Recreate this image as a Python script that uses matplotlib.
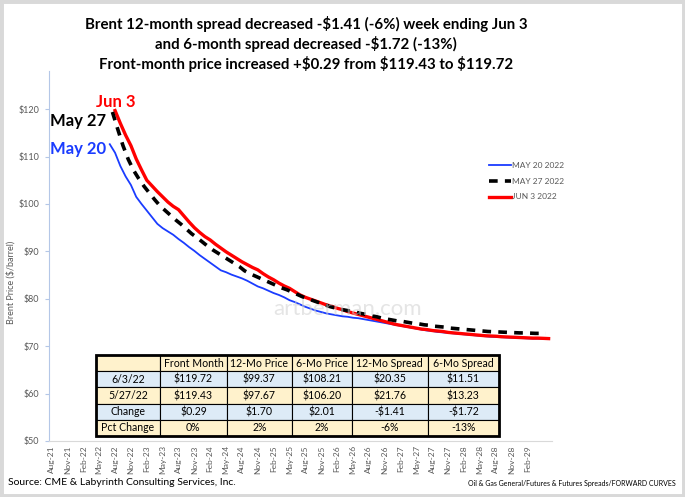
import numpy as np
import matplotlib
matplotlib.use('Agg')
import matplotlib.pyplot as plt
from matplotlib.patches import Rectangle

plt.rcParams['font.family'] = ['Lato', 'DejaVu Sans']

#Forward curves, one value per contract month (month 0 = Aug-21)
start_may20 = 11
start_may27 = 11.5
start_jun3 = 12
may20 = [112.6,110.8,108.0,105.8,104.0,101.5,100.0,98.6,97.2,95.8,94.9,94.2,93.5,92.6,91.8,90.9,
 90.1,89.2,88.4,87.6,86.8,86.0,85.6,85.1,84.7,84.3,83.8,83.2,82.6,82.2,81.7,81.2,80.8,80.3,79.7,
 79.3,78.8,78.3,77.9,77.5,77.2,76.9,76.7,76.5,76.3,76.2,76.0,75.9,75.7,75.5,75.3,75.1,74.9,74.7,
 74.5,74.3,74.1,73.9,73.7,73.5,73.3,73.2,73.0,72.9,72.8,72.7,72.6,72.5,72.4,72.3,72.2,72.1,72.0,
 71.95,71.9,71.85,71.8,71.75,71.7,71.65,71.6,71.6,71.55,71.5]
may27 = [119.4,115.8,112.3,109.4,107.1,105.3,103.7,102.3,100.9,99.6,98.6,97.6,96.6,95.7,94.7,93.7,
 92.9,92.0,91.1,90.3,89.6,88.9,88.2,87.5,86.8,85.9,85.3,84.8,84.3,83.8,83.3,82.8,82.3,81.9,81.4,
 80.9,80.4,80.0,79.6,79.2,78.8,78.4,78.1,77.8,77.6,77.4,77.2,76.9,76.7,76.4,76.2,75.9,75.7,75.5,
 75.3,75.2,75.0,74.8,74.7,74.5,74.4,74.2,74.1,74.0,73.8,73.7,73.6,73.5,73.4,73.3,73.2,73.1,73.05,
 73.0,72.95,72.9,72.85,72.8,72.8,72.75,72.7,72.7,72.7]
jun3 = [119.7,117.0,114.5,112.3,109.5,107.2,105.0,103.8,102.6,101.5,100.4,99.5,98.8,97.5,96.2,95.0,
 94.0,93.1,92.4,91.5,90.7,89.9,89.2,88.5,87.8,87.2,86.6,86.1,85.3,84.6,84.0,83.3,82.7,82.2,81.5,
 80.8,80.3,79.9,79.5,79.1,78.7,78.4,78.0,77.7,77.3,77.0,76.7,76.4,76.1,75.8,75.5,75.2,74.9,74.6,
 74.4,74.2,74.0,73.8,73.6,73.5,73.3,73.2,73.1,72.9,72.8,72.7,72.6,72.5,72.4,72.3,72.2,72.15,72.1,
 72.0,71.95,71.9,71.85,71.8,71.75,71.7,71.7,71.65,71.6]

xlabels = ['Aug-21','Nov-21','Feb-22','May-22','Aug-22','Nov-22','Feb-23','May-23','Aug-23','Nov-23',
 'Feb-24','May-24','Aug-24','Nov-24','Feb-25','May-25','Aug-25','Nov-25','Feb-26','May-26','Aug-26',
 'Nov-26','Feb-27','May-27','Aug-27','Nov-27','Feb-28','May-28','Aug-28','Nov-28','Feb-29']
yticks = [50,60,70,80,90,100,110,120]

table_cols = ['','Front Month','12-Mo Price','6-Mo Price','12-Mo Spread','6-Mo Spread']
table_rows = [['6/3/22','$119.72','$99.37','$108.21','$20.35','$11.51'],
 ['5/27/22','$119.43','$97.67','$106.20','$21.76','$13.23'],
 ['Change','$0.29','$1.70','$2.01','-$1.41','-$1.72'],
 ['Pct Change','0%','2%','2%','-6%','-13%']]

title = ('Brent 12-month spread decreased -$1.41 (-6%) week ending Jun 3\n'
 'and 6-month spread decreased -$1.72 (-13%)\n'
 'Front-month price increased +$0.29 from $119.43 to $119.72')

blue = '#1a3cff'
red = '#ff0000'
grey = '#595959'

fig = plt.figure(figsize=(6.85,4.97),dpi=100)
fig.patches.append(Rectangle((0,0),1,1,transform=fig.transFigure,fill=False,
 edgecolor='#d9d9d9',lw=5,zorder=0))
ax = fig.add_axes([0.0715,0.1127,0.734,0.744])

ax.plot(start_may20+np.arange(len(may20)),may20,color=blue,lw=1.3,label='MAY 20 2022',zorder=3)
ax.plot(start_may27+np.arange(len(may27)),may27,color='black',lw=2.6,dashes=(2.4,2.0),
 label='MAY 27 2022',zorder=4)
ax.plot(start_jun3+np.arange(len(jun3)),jun3,color=red,lw=2.4,label='JUN 3 2022',zorder=3)

ax.set_xlim(-0.5,94.6)
ax.set_ylim(50,128)
ax.set_xticks(np.arange(len(xlabels))*3)
ax.set_xticklabels(xlabels,rotation=90,fontsize=6,color=grey)
ax.set_yticks(yticks)
ax.set_yticklabels(['$%d' % v for v in yticks],fontsize=6.5,color=grey)
ax.tick_params(axis='x',length=0,pad=3)
ax.tick_params(axis='y',length=3,color='#b4c7e7',pad=4)
ax.set_ylabel('Brent Price ($/barrel)',fontsize=6.5,color=grey)
ax.yaxis.set_label_coords(-0.066,0.43)
for s in ['top','right']:
 ax.spines[s].set_visible(False)
ax.spines['left'].set_color('#b4c7e7')
ax.spines['bottom'].set_color('#d9d9d9')

leg = ax.legend(loc='upper left',bbox_to_anchor=(0.86,0.775),frameon=False,fontsize=6,
 handlelength=2.6,handletextpad=0.2,labelspacing=1.05)
for t in leg.get_texts():
 t.set_color(grey)

#Curve labels
ax.text(12.2,121.5,'Jun 3',color=red,fontsize=12,fontweight='bold',ha='center',va='center')
ax.text(-0.4,117.4,'May 27',color='black',fontsize=12,fontweight='bold',ha='left',va='center')
ax.text(-0.4,111.5,'May 20',color=blue,fontsize=12,fontweight='bold',ha='left',va='center')

ax.text(56,77.8,'artberman.com',color='#d0d0d0',alpha=0.55,fontsize=16,ha='center',va='center',zorder=5)

#Summary table
widths = np.array([64,67,65,60,76,71],dtype=float)
tb = ax.table(cellText=table_rows,colLabels=table_cols,cellLoc='center',
 colWidths=list(widths/widths.sum()),bbox=[0.0934,0.0135,0.8012,0.2189],zorder=6)
tb.auto_set_font_size(False)
for (r,c),cell in tb.get_celld().items():
 cell.set_fontsize(7.6)
 cell.set_linewidth(0.8)
 cell.PAD = 0.02
 cell.set_facecolor('#fff2cc' if r % 2 == 0 else '#ddebf7')
ax.add_patch(Rectangle((0.0934,0.0135),0.8012,0.2189,transform=ax.transAxes,fill=False,
 lw=2,edgecolor='black',zorder=7))

fig.text(0.447,0.968,title,ha='center',va='top',fontsize=10.8,fontweight='bold',linespacing=1.3)
fig.text(0.012,0.02,'Source: CME & Labyrinth Consulting Services, Inc.',fontsize=7.5,va='bottom')
fig.text(0.987,0.02,'Oil & Gas General/Futures & Futures Spreads/FORWARD CURVES',fontsize=5,
 ha='right',va='bottom')

fig.savefig('out.png',dpi=100)
